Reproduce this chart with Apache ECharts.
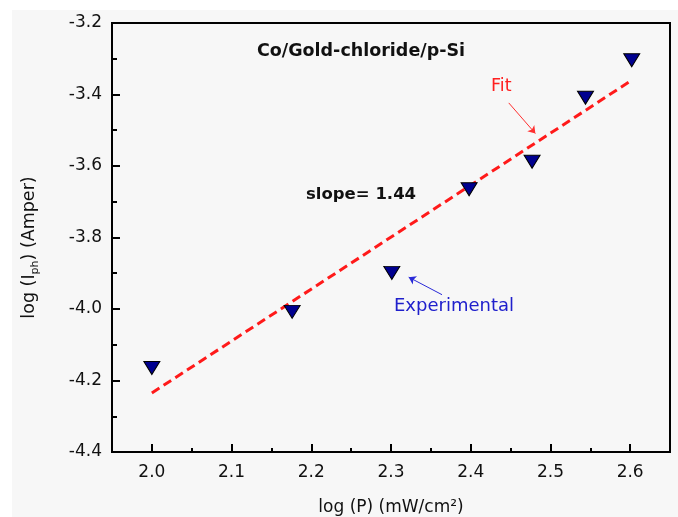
<!DOCTYPE html>
<html>
<head>
<meta charset="utf-8">
<script src="https://cdn.jsdelivr.net/npm/echarts@6/dist/echarts.min.js"></script>
<style>html,body{margin:0;padding:0;background:#fff;}#c{width:678px;height:517px;}</style>
</head>
<body>
<div id="c"></div>
<script>
var logP = [2.0, 2.176, 2.301, 2.398, 2.477, 2.544, 2.602];
var logI = [-4.165, -4.008, -3.899, -3.665, -3.588, -3.409, -3.304];
var fitX = [2.0, 2.602];
var fitY = [-4.235, -3.36];
var xRange = {min: 1.95, max: 2.65, minorInterval: 0.05};
var xMajorTicks = [2.0, 2.1, 2.2, 2.3, 2.4, 2.5, 2.6];
var yTicks = {min: -4.4, max: -3.2, interval: 0.2};
var fitArrow = [[2.4477, -3.4235], [2.4811, -3.509]];
var expArrow = [[2.364, -3.960], [2.3222, -3.911]];

var FONT = 'DejaVu Sans';
var chart = echarts.init(document.getElementById('c'), null, {renderer: 'canvas'});
var expData = logP.map(function (x, i) { return [x, logI[i]]; });
var fitData = fitX.map(function (x, i) { return [x, fitY[i]]; });

chart.setOption({
  backgroundColor: '#f7f7f7',
  animation: false,
  grid: {left: 112, right: 8, top: 23, bottom: 65, containLabel: false, outerBoundsMode: 'none',
    show: true, borderColor: '#000', borderWidth: 2, backgroundColor: 'transparent'},
  xAxis: [{
    type: 'value', min: xRange.min, max: xRange.max, interval: xRange.minorInterval,
    name: 'log (P) (mW/cm\u00B2)', nameLocation: 'middle', nameGap: 47,
    nameTextStyle: {fontFamily: FONT, fontSize: 17, color: '#111'},
    axisLine: {show: true, onZero: false, lineStyle: {color: '#000', width: 2}},
    axisTick: {show: true, inside: true, length: 8, customValues: xMajorTicks, lineStyle: {color: '#000', width: 2}},
    axisLabel: {fontFamily: FONT, fontSize: 17, color: '#111', margin: 12, customValues: xMajorTicks,
      formatter: function (v) { return (+v).toFixed(1); }},
    splitLine: {show: false}
  }, {
    type: 'value', min: xRange.min, max: xRange.max, interval: xRange.minorInterval, position: 'bottom',
    axisLine: {show: false, onZero: false},
    axisTick: {show: true, inside: true, length: 4, lineStyle: {color: '#000', width: 2}},
    axisLabel: {show: false},
    splitLine: {show: false}
  }],
  yAxis: {
    type: 'value', min: yTicks.min, max: yTicks.max, interval: yTicks.interval,
    name: '{n|log (I}{s|ph}{n|) (Amper)}', nameLocation: 'middle', nameGap: 70, nameRotate: 90,
    nameTextStyle: {fontFamily: FONT, fontSize: 17, color: '#111', padding: [0, 20, 0, 0],
      rich: {n: {fontFamily: FONT, fontSize: 17.5, color: '#111', lineHeight: 22, verticalAlign: 'top'},
             s: {fontFamily: FONT, fontSize: 11, color: '#111', lineHeight: 22, verticalAlign: 'top', padding: [10, 0, 0, 0]}}},
    axisLine: {show: true, onZero: false, lineStyle: {color: '#000', width: 2}},
    axisTick: {show: true, inside: true, length: 8, lineStyle: {color: '#000', width: 2}},
    minorTick: {show: true, splitNumber: 2, length: 5, lineStyle: {color: '#000', width: 2}},
    axisLabel: {fontFamily: FONT, fontSize: 17, color: '#111', margin: 10,
      formatter: function (v) { return v.toFixed(1); }},
    splitLine: {show: false}
  },
  series: [
    {
      type: 'line', data: fitData, showSymbol: false, symbol: 'none', z: 2,
      lineStyle: {color: '#ff1a1a', width: 3, type: [9, 5]}
    },
    {
      type: 'scatter', data: expData, symbol: 'triangle', symbolRotate: 180, symbolSize: [16, 13], z: 3,
      itemStyle: {color: '#00008f', borderColor: '#000', borderWidth: 1, opacity: 1}
    },
    {
      type: 'lines', coordinateSystem: 'cartesian2d', z: 4, silent: true,
      symbol: ['none', 'arrow'], symbolSize: 7,
      data: [{coords: fitArrow, lineStyle: {color: '#ff3030', width: 1, opacity: 1}},
             {coords: expArrow, lineStyle: {color: '#2a2ad8', width: 1, opacity: 1}}],
      lineStyle: {width: 1, opacity: 1}
    }
  ],
  graphic: [
    {type: 'rect', shape: {x: 0, y: 0, width: 678, height: 10}, style: {fill: '#fff'}, z: -1, silent: true},
    {type: 'rect', shape: {x: 0, y: 0, width: 12, height: 517}, style: {fill: '#fff'}, z: -1, silent: true},
    {type: 'text', x: 361, y: 51, style: {text: 'Co/Gold-chloride/p-Si', font: 'bold 17.5px "DejaVu Sans"', fill: '#111', align: 'center', verticalAlign: 'middle'}, z: 10},
    {type: 'text', x: 306, y: 195, style: {text: 'slope= 1.44', font: 'bold 16.5px "DejaVu Sans"', fill: '#111', align: 'left', verticalAlign: 'middle'}, z: 10},
    {type: 'text', x: 491, y: 86, style: {text: 'Fit', font: '17.5px "DejaVu Sans"', fill: '#ff2020', align: 'left', verticalAlign: 'middle'}, z: 10},
    {type: 'text', x: 394, y: 306, style: {text: 'Experimental', font: '18px "DejaVu Sans"', fill: '#2020cc', align: 'left', verticalAlign: 'middle'}, z: 10}
  ]
});
</script>
</body>
</html>
